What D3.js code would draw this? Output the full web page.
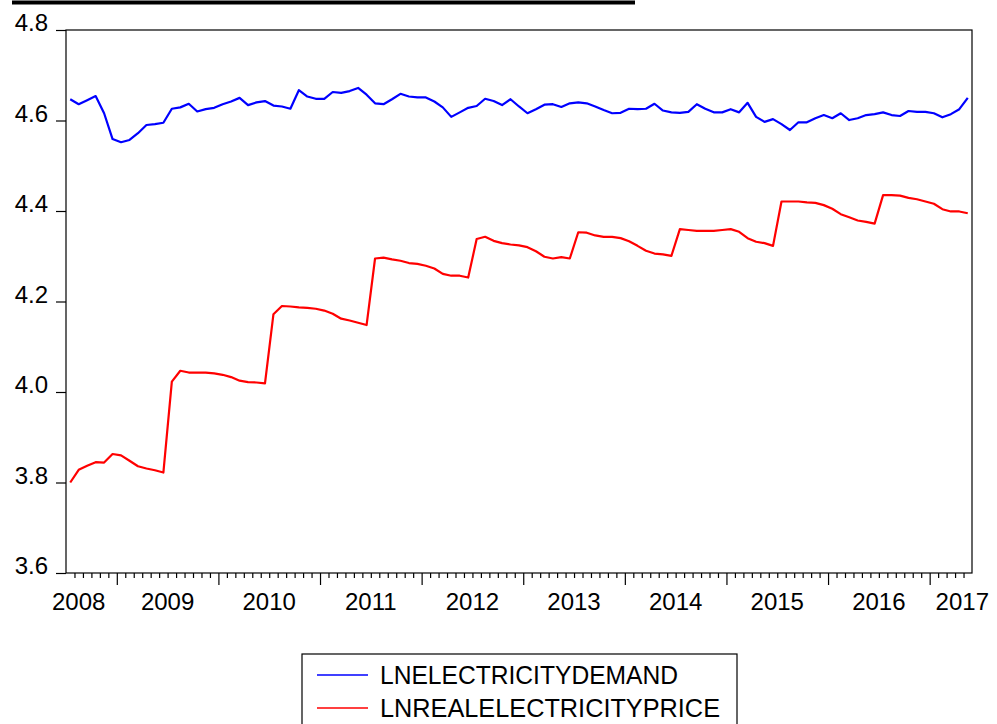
<!DOCTYPE html>
<html>
<head>
<meta charset="utf-8">
<script src="https://cdn.jsdelivr.net/npm/d3@7/dist/d3.min.js"></script>
<style>
  html, body { margin: 0; padding: 0; background: #fff; }
  svg { display: block; }
  text { font-family: "Liberation Sans", Arial, sans-serif; fill: #000; }
</style>
</head>
<body>
<svg id="chart" width="997" height="724"></svg>
<script>
// Monthly observations, 2008M01 – 2016M11
const startYear = 2008;
const startMonth = 1;

const demand = [
  4.647, 4.636, 4.645, 4.654, 4.616, 4.559, 4.552, 4.557, 4.572, 4.590, 4.592, 4.595,
  4.626, 4.629, 4.637, 4.620, 4.625, 4.628, 4.636, 4.642, 4.650, 4.634, 4.640, 4.643,
  4.633, 4.631, 4.626, 4.667, 4.653, 4.648, 4.648, 4.663, 4.661, 4.665, 4.672, 4.657,
  4.638, 4.636, 4.647, 4.659, 4.653, 4.651, 4.651, 4.642, 4.629, 4.608, 4.618, 4.628,
  4.632, 4.648, 4.643, 4.634, 4.647, 4.631, 4.616, 4.625, 4.635, 4.636, 4.630, 4.638,
  4.640, 4.638, 4.631, 4.623, 4.616, 4.617, 4.626, 4.625, 4.626, 4.637, 4.622, 4.618,
  4.617, 4.619, 4.636, 4.626, 4.618, 4.618, 4.625, 4.618, 4.639, 4.608, 4.597, 4.603,
  4.592, 4.579, 4.596, 4.596, 4.605, 4.612, 4.605, 4.616, 4.601, 4.605, 4.612, 4.614,
  4.618, 4.612, 4.610, 4.621, 4.619, 4.619, 4.616, 4.607, 4.614, 4.625, 4.650
];

const price = [
  3.800, 3.828, 3.837, 3.845, 3.844, 3.863, 3.860, 3.848, 3.836, 3.831, 3.827, 3.822,
  4.023, 4.047, 4.043, 4.043, 4.043, 4.041, 4.038, 4.033, 4.025, 4.022, 4.021, 4.019,
  4.172, 4.190, 4.189, 4.187, 4.186, 4.184, 4.180, 4.173, 4.162, 4.158, 4.153, 4.148,
  4.295, 4.297, 4.293, 4.290, 4.285, 4.283, 4.279, 4.273, 4.261, 4.257, 4.257, 4.253,
  4.338, 4.343, 4.334, 4.329, 4.326, 4.324, 4.320, 4.311, 4.299, 4.295, 4.298, 4.295,
  4.353, 4.352, 4.346, 4.343, 4.343, 4.340, 4.333, 4.323, 4.312, 4.306, 4.304, 4.301,
  4.360, 4.358, 4.356, 4.356, 4.356, 4.358, 4.360, 4.354, 4.340, 4.332, 4.329, 4.323,
  4.421, 4.421, 4.421, 4.419, 4.418, 4.413, 4.405, 4.393, 4.386, 4.379, 4.376, 4.372,
  4.435, 4.435, 4.434, 4.429, 4.426, 4.421, 4.416, 4.404, 4.399, 4.399, 4.395
];

const yTicks = [3.6, 3.8, 4.0, 4.2, 4.4, 4.6, 4.8];
const yearLabels = ["2008", "2009", "2010", "2011", "2012", "2013", "2014", "2015", "2016", "2017"];
const seriesNames = ["LNELECTRICITYDEMAND", "LNREALELECTRICITYPRICE"];
const seriesColors = ["#0000ff", "#ff0000"];

const svg = d3.select("#chart");
const W = 997, H = 724;
const plot = { left: 66, right: 972, top: 30, bottom: 573 };
const n = demand.length;

svg.append("rect").attr("width", W).attr("height", H).attr("fill", "#fff");

// heavy rule along the top edge
svg.append("line")
  .attr("x1", 12).attr("x2", 635).attr("y1", 2.5).attr("y2", 2.5)
  .attr("stroke", "#000").attr("stroke-width", 4);

// x: each observation occupies one cell; boundaries are integers
const x = d3.scaleLinear().domain([0, n]).range([plot.left, plot.right]);
const y = d3.scaleLinear().domain([3.6, 4.8]).range([plot.bottom, plot.top]);

// frame
svg.append("rect")
  .attr("x", plot.left).attr("y", plot.top)
  .attr("width", plot.right - plot.left).attr("height", plot.bottom - plot.top)
  .attr("fill", "none").attr("stroke", "#000").attr("stroke-width", 1.2);

// y axis
const yAxis = d3.axisLeft(y)
  .tickValues(yTicks)
  .tickSize(10)
  .tickFormat(d3.format(".1f"));
const gy = svg.append("g").attr("transform", `translate(${plot.left},0)`).call(yAxis);
gy.select(".domain").remove();
gy.selectAll(".tick line").attr("stroke", "#000").attr("stroke-width", 1.2);
gy.selectAll(".tick text")
  .attr("x", -18).attr("dy", "0.5")
  .attr("dominant-baseline", "alphabetic")
  .style("font-size", "24px")
  .style("font-family", "'Liberation Sans', Arial, sans-serif");

// x axis: minor ticks at every month boundary, major ticks mid-year
const boundaries = d3.range(1, n);
const isMajor = i => (i - 6) % 12 === 0;
const xAxis = d3.axisBottom(x)
  .tickValues(boundaries)
  .tickSize(5)
  .tickFormat("");
const gx = svg.append("g").attr("transform", `translate(0,${plot.bottom})`).call(xAxis);
gx.select(".domain").remove();
gx.selectAll(".tick line")
  .attr("stroke", "#000").attr("stroke-width", 1.2)
  .attr("y2", d => isMajor(d) ? 12 : 5);

// year labels at each January boundary, kept within the page
const labelG = svg.append("g");
yearLabels.forEach((lab, k) => {
  const t = labelG.append("text")
    .attr("x", x(k * 12)).attr("y", 610)
    .attr("text-anchor", "middle")
    .style("font-size", "24px")
    .text(lab);
  const bb = t.node().getBBox();
  if (bb.x < 52) t.attr("x", x(k * 12) + (52 - bb.x));
  if (bb.x + bb.width > 989) t.attr("x", x(k * 12) - (bb.x + bb.width - 989));
});

// series lines
const line = d3.line()
  .x((d, i) => x(i + 0.5))
  .y(d => y(d));

[demand, price].forEach((s, j) => {
  svg.append("path")
    .datum(s)
    .attr("d", line)
    .attr("fill", "none")
    .attr("stroke", seriesColors[j])
    .attr("stroke-width", 2.2)
    .attr("stroke-linejoin", "round");
});

// legend
const lg = svg.append("g");
lg.append("rect")
  .attr("x", 302).attr("y", 654).attr("width", 435).attr("height", 90)
  .attr("fill", "#fff").attr("stroke", "#000").attr("stroke-width", 1.2);
const legendRows = [
  { name: seriesNames[0], color: seriesColors[0], ly: 675, ty: 683.5, len: 298 },
  { name: seriesNames[1], color: seriesColors[1], ly: 708, ty: 716.5, len: 340 }
];
legendRows.forEach(r => {
  lg.append("line")
    .attr("x1", 317).attr("x2", 368).attr("y1", r.ly).attr("y2", r.ly)
    .attr("stroke", r.color).attr("stroke-width", 1.6);
  lg.append("text")
    .attr("x", 380).attr("y", r.ty)
    .attr("textLength", r.len).attr("lengthAdjust", "spacingAndGlyphs")
    .style("font-size", "25px")
    .text(r.name);
});
</script>
</body>
</html>
